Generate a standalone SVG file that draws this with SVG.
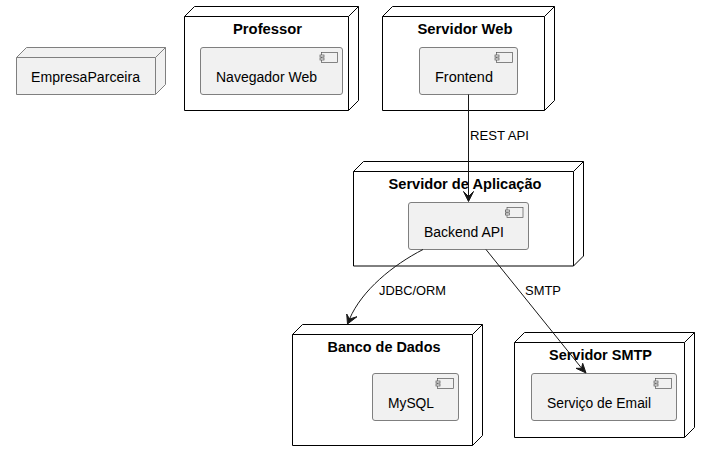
<svg xmlns="http://www.w3.org/2000/svg" width="710" height="461" viewBox="0 0 710 461">
<style>
text{font-family:"Liberation Sans",Arial,sans-serif;fill:#000}
.t{font-size:14px;font-weight:bold;text-anchor:middle}
.c{font-size:14px}
.l{font-size:13px}
.n{fill:#fff;stroke:#000;stroke-width:1}
.e{fill:none;stroke:#000;stroke-width:1}
.np{fill:#f1f1f1;stroke:#7f7f7f;stroke-width:1}
.cb{fill:#f1f1f1;stroke:#7f7f7f;stroke-width:1}
.ic{fill:#f1f1f1;stroke:#555;stroke-width:.7}
.w{fill:none;stroke:#181818;stroke-width:1}
.h{fill:#181818;stroke:#181818;stroke-width:1}
</style>
<defs>
<g id="ic"><rect class="ic" x="1.500" y="0" width="16" height="10"/><rect class="ic" x="0" y="2.500" width="4" height="2"/><rect class="ic" x="0" y="5.500" width="4" height="2"/></g>
</defs>
<g id="EmpresaParceira">
<path class="np" d="M16.500 57.500L26.500 47.500H165.500V84.500L155.500 94.500H16.500Z"/>
<path class="np" d="M155.500 57.500L165.500 47.500M16.500 57.500H155.500V94.500"/>
<text class="c" x="31" y="82" textLength="109" lengthAdjust="spacingAndGlyphs">EmpresaParceira</text>
</g>
<g id="Professor">
<path class="n" d="M184.500 16.500L194.500 6.500H358.500V100.500L348.500 110.500H184.500Z"/>
<path class="e" d="M348.500 16.500L358.500 6.500M184.500 16.500H348.500V110.500"/>
<text class="t" x="267.500" y="34" textLength="69" lengthAdjust="spacingAndGlyphs">Professor</text>
<g id="NavegadorWeb">
<rect class="cb" x="200.500" y="47.500" width="142" height="47" rx="2.500"/>
<use href="#ic" x="320" y="52.500"/>
<text class="c" x="216" y="82" textLength="101" lengthAdjust="spacingAndGlyphs">Navegador Web</text>
</g>
</g>
<g id="ServidorWeb">
<path class="n" d="M382.500 16.500L392.500 6.500H554.500V100.500L544.500 110.500H382.500Z"/>
<path class="e" d="M544.500 16.500L554.500 6.500M382.500 16.500H544.500V110.500"/>
<text class="t" x="465" y="34" textLength="95" lengthAdjust="spacingAndGlyphs">Servidor Web</text>
<g id="Frontend">
<rect class="cb" x="419.500" y="47.500" width="98" height="47" rx="2.500"/>
<use href="#ic" x="495" y="52.500"/>
<text class="c" x="435" y="82" textLength="58" lengthAdjust="spacingAndGlyphs">Frontend</text>
</g>
</g>
<g id="ServidorAplicacao">
<path class="n" d="M353.500 171.500L363.500 161.500H583.500V256L573.500 266H353.500Z"/>
<path class="e" d="M573.500 171.500L583.500 161.500M353.500 171.500H573.500V266"/>
<text class="t" x="465" y="189" textLength="153" lengthAdjust="spacingAndGlyphs">Servidor de Aplicação</text>
<g id="BackendAPI">
<rect class="cb" x="408.500" y="202.500" width="120" height="47" rx="2.500"/>
<use href="#ic" x="505.500" y="207.500"/>
<text class="c" x="424" y="237" textLength="80" lengthAdjust="spacingAndGlyphs">Backend API</text>
</g>
</g>
<g id="BancoDeDados">
<path class="n" d="M292.500 334.500L302.500 324.500H482.500V435.500L472.500 445.500H292.500Z"/>
<path class="e" d="M472.500 334.500L482.500 324.500M292.500 334.500H472.500V445.500"/>
<text class="t" x="384" y="352" textLength="113" lengthAdjust="spacingAndGlyphs">Banco de Dados</text>
<g id="MySQL">
<rect class="cb" x="372.500" y="373.500" width="86" height="47" rx="2.500"/>
<use href="#ic" x="436" y="378.500"/>
<text class="c" x="388" y="408" textLength="46" lengthAdjust="spacingAndGlyphs">MySQL</text>
</g>
</g>
<g id="ServidorSMTP">
<path class="n" d="M514.500 342.500L524.500 332.500H694.500V427.500L684.500 437.500H514.500Z"/>
<path class="e" d="M684.500 342.500L694.500 332.500M514.500 342.500H684.500V437.500"/>
<text class="t" x="600.500" y="360" textLength="103" lengthAdjust="spacingAndGlyphs">Servidor SMTP</text>
<g id="ServicoEmail">
<rect class="cb" x="531.500" y="373.500" width="145" height="47" rx="2.500"/>
<use href="#ic" x="654" y="378.500"/>
<text class="c" x="547" y="408" textLength="104" lengthAdjust="spacingAndGlyphs">Serviço de Email</text>
</g>
</g>
<g id="connectors">
<path class="w" d="M468.500 94.500V197"/>
<path class="h" d="M468.500 201.500L473.500 191.500L468.500 196.500L463.500 191.500Z"/>
<text class="l" x="470" y="140" textLength="59" lengthAdjust="spacingAndGlyphs">REST API</text>
<path class="w" d="M423 249.500C393 265 362 290 349.500 319"/>
<path class="h" d="M347.500 324L357 316.700L349.500 319L346.700 314Z"/>
<text class="l" x="379" y="295" textLength="67" lengthAdjust="spacingAndGlyphs">JDBC/ORM</text>
<path class="w" d="M486 249.500L581.500 368"/>
<path class="h" d="M586 373L582.700 363.300L581.500 368.300L576 368.300Z"/>
<text class="l" x="525" y="295" textLength="36" lengthAdjust="spacingAndGlyphs">SMTP</text>
</g>
</svg>
